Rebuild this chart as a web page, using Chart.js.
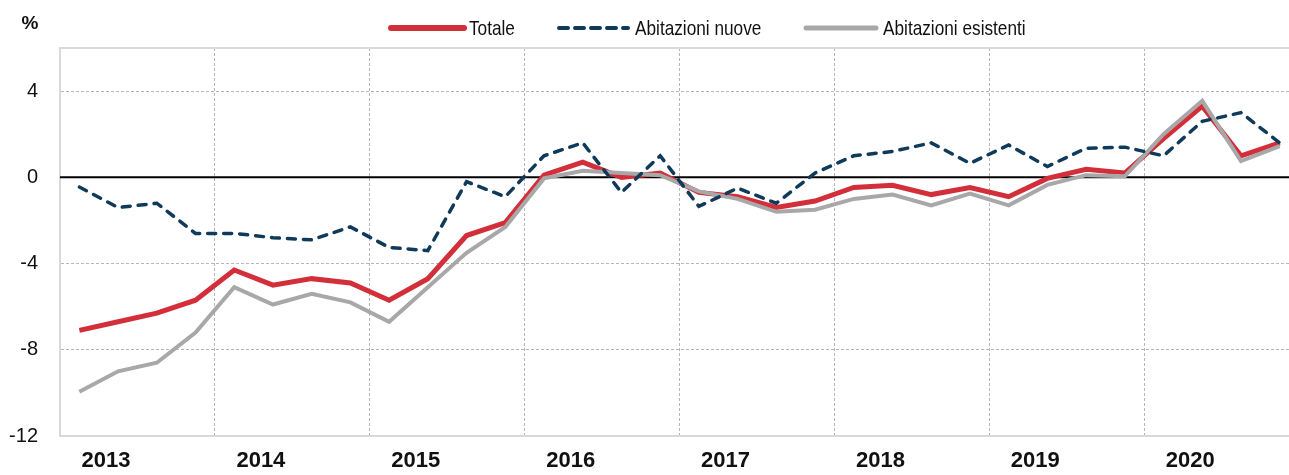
<!DOCTYPE html>
<html>
<head>
<meta charset="utf-8">
<script src="https://cdn.jsdelivr.net/npm/chart.js@4"></script>
<style>
  html, body { margin: 0; padding: 0; background: #fff; }
  #wrap { width: 1289px; height: 475px; position: relative; }
</style>
</head>
<body>
<div id="wrap"><canvas id="c" width="1289" height="475"></canvas></div>
<script>
// ---- data (quarterly, 2013 Q1 - 2020 Q4) ----
const years = ['2013','2014','2015','2016','2017','2018','2019','2020'];
const seriesNames = ['Totale', 'Abitazioni nuove', 'Abitazioni esistenti'];
const totale = [-7.1,-6.7,-6.3,-5.7, -4.3,-5.0,-4.7,-4.9, -5.7,-4.7,-2.7,-2.1,
                 0.1,0.7,0.0,0.2, -0.7,-0.9,-1.4,-1.1, -0.47,-0.37,-0.8,-0.47,
                 -0.9,-0.05,0.37,0.2, 1.8,3.3,1.0,1.6];
const nuove = [-0.45,-1.4,-1.2,-2.6, -2.6,-2.8,-2.9,-2.3, -3.25,-3.4,-0.2,-0.9,
               1.0,1.6,-0.7,1.0, -1.35,-0.5,-1.2,0.2, 1.0,1.2,1.6,0.65,
               1.5,0.5,1.35,1.4, 1.0,2.6,3.0,1.6];
const esistenti = [-9.95,-9.0,-8.6,-7.2, -5.1,-5.9,-5.4,-5.8, -6.7,-5.1,-3.5,-2.3,
                   -0.05,0.3,0.2,0.1, -0.65,-1.0,-1.6,-1.5, -1.0,-0.8,-1.3,-0.75,
                   -1.3,-0.35,0.1,0.05, 2.0,3.55,0.75,1.45];
const yTickLabels = ['-12','-8','-4','0','4'];
const unitLabel = '%';

const FONT = "'Liberation Sans', Arial, sans-serif";
const colors = { totale: '#d32f3a', nuove: '#0f3a5a', esistenti: '#a8a8a8' };

const toPoints = arr => arr.map((v, i) => ({ x: i + 0.5, y: v }));

const legendPlugin = {
  id: 'customLegend',
  afterDraw(chart) {
    const ctx = chart.ctx;
    const items = [
      { line: [391, 464], text: 469 },
      { line: [559, 628], text: 635 },
      { line: [806, 876], text: 883 }
    ];
    const y = 28;
    const squeeze = 0.82;
    ctx.save();
    chart.data.datasets.forEach((ds, i) => {
      const it = items[i];
      ctx.beginPath();
      ctx.lineWidth = ds.legendWidth;
      ctx.strokeStyle = ds.borderColor;
      ctx.lineCap = 'round';
      ctx.setLineDash(ds.legendDash || []);
      ctx.moveTo(it.line[0], y);
      ctx.lineTo(it.line[1], y);
      ctx.stroke();
      ctx.setLineDash([]);
      ctx.save();
      ctx.translate(it.text, y + 1);
      ctx.scale(squeeze, 1);
      ctx.font = "21px " + FONT;
      ctx.textBaseline = 'middle';
      ctx.textAlign = 'left';
      ctx.fillStyle = '#111';
      ctx.fillText(ds.label, 0, 0);
      ctx.restore();
    });
    ctx.font = "bold 19px " + FONT;
    ctx.textAlign = 'center';
    ctx.textBaseline = 'middle';
    ctx.fillStyle = '#111';
    ctx.fillText(unitLabel, 30, 24);
    ctx.restore();
  }
};

const frameBorderPlugin = {
  id: 'frameBorder',
  beforeDatasetsDraw(chart) {
    const { ctx, chartArea, scales } = chart;
    ctx.save();
    ctx.strokeStyle = '#d9d9d9';
    ctx.lineWidth = 2;
    ctx.beginPath();
    ctx.moveTo(chartArea.left, chartArea.top);
    ctx.lineTo(chartArea.right, chartArea.top);
    ctx.stroke();
    const y0 = scales.y.getPixelForValue(0);
    ctx.strokeStyle = '#000';
    ctx.lineWidth = 2;
    ctx.beginPath();
    ctx.moveTo(chartArea.left, y0);
    ctx.lineTo(chartArea.right, y0);
    ctx.stroke();
    ctx.restore();
  }
};

new Chart(document.getElementById('c'), {
  type: 'line',
  data: {
    datasets: [
      { label: seriesNames[0], data: toPoints(totale), borderColor: colors.totale,
        borderWidth: 5, legendWidth: 6, order: 2 },
      { label: seriesNames[1], data: toPoints(nuove), borderColor: colors.nuove,
        borderWidth: 3.5, legendWidth: 4, borderDash: [8, 8], legendDash: [9, 7],
        borderCapStyle: 'round', order: 0 },
      { label: seriesNames[2], data: toPoints(esistenti), borderColor: colors.esistenti,
        borderWidth: 4, legendWidth: 5, order: 1 }
    ]
  },
  options: {
    responsive: false,
    animation: false,
    layout: { padding: { top: 48, left: 0, right: 0, bottom: 0 } },
    elements: {
      point: { radius: 0, hoverRadius: 0 },
      line: { tension: 0, borderJoinStyle: 'miter', fill: false }
    },
    plugins: { legend: { display: false }, tooltip: { enabled: false } },
    scales: {
      x: {
        type: 'linear',
        min: 0,
        max: 31.74,
        afterFit(scale) { scale.height = 39; },
        afterBuildTicks(scale) {
          scale.ticks = years.map((y, i) => ({ value: i * 4 }));
        },
        grid: {
          drawTicks: false,
          color: ctx => (ctx.tick && ctx.tick.value === 0) ? 'rgba(0,0,0,0)' : '#b5b5b5',
          lineWidth: 1
        },
        border: { display: true, color: '#d9d9d9', width: 2, dash: [3, 2] },
        ticks: {
          autoSkip: false,
          maxRotation: 0,
          padding: 12,
          labelOffset: 46,
          color: '#111',
          font: { family: FONT, size: 22, weight: 'bold' },
          callback: v => years[Math.round(v / 4)] || ''
        }
      },
      y: {
        min: -12,
        max: 6,
        afterFit(scale) { scale.width = 60; },
        afterBuildTicks(scale) {
          scale.ticks = yTickLabels.map(t => ({ value: Number(t) }));
        },
        grid: {
          drawTicks: false,
          color: ctx => {
            if (!ctx.tick) return '#b5b5b5';
            if (ctx.tick.value === -12 || ctx.tick.value === 0) return 'rgba(0,0,0,0)';
            return '#b5b5b5';
          },
          lineWidth: 1
        },
        border: { display: true, color: '#d9d9d9', width: 2, dash: [3, 2] },
        ticks: {
          padding: 22,
          color: '#111',
          font: { family: FONT, size: 20 },
          callback: v => yTickLabels.includes(String(v)) ? String(v) : ''
        }
      }
    }
  },
  plugins: [frameBorderPlugin, legendPlugin]
});
</script>
</body>
</html>
